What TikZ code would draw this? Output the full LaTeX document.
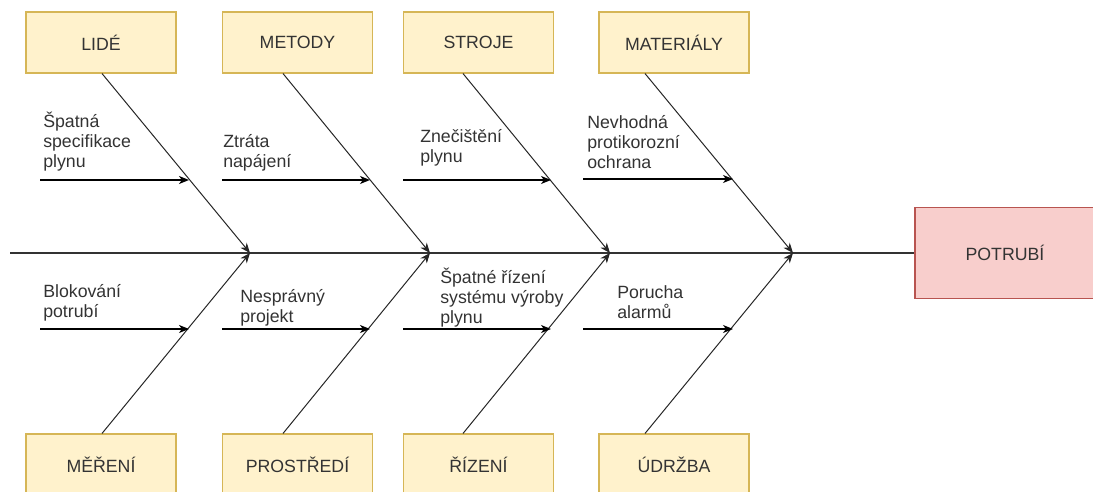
\documentclass[tikz,border=0pt]{standalone}
\usepackage{fontspec}
\setmainfont{Liberation Sans}
\usetikzlibrary{arrows.meta}
\definecolor{boxfill}{HTML}{FFF2CC}
\definecolor{boxline}{HTML}{D6B656}
\definecolor{effill}{HTML}{F8CECC}
\definecolor{efline}{HTML}{B85450}
\definecolor{txt}{HTML}{333333}
\newcommand\fishfont{\fontsize{13.3}{15}\selectfont\lineskiplimit=-20pt\relax}
\tikzset{
  cat/.style={draw=boxline, fill=boxfill, line width=0.8pt, minimum width=112.5pt, minimum height=45.75pt, inner sep=0pt, text=txt, font=\fishfont},
  effect/.style={draw=efline, fill=effill, line width=0.8pt, minimum width=135pt, minimum height=68.25pt, inner sep=0pt, text=txt, font=\fishfont},
  cause/.style={anchor=north west, inner sep=0pt, align=left, text=txt, font=\fishfont},
  spine/.style={draw=txt, line width=1.5pt},
  bone/.style={draw=black!85, line width=0.75pt, -{Stealth[length=7.5pt,width=6pt,inset=2.2pt]}},
  sub/.style={draw=black, line width=1.1pt, -{Stealth[length=7.5pt,width=6pt,inset=2.2pt]}}
}
\begin{document}
\begin{tikzpicture}[x=0.75pt, y=-0.75pt]
\useasboundingbox (0,0) rectangle (1093,492);
% category boxes
\node[cat] (lide) at (101,42.5) {LIDÉ};
\node[cat] (metody) at (297.5,42.5) {METODY};
\node[cat] (stroje) at (478.5,42.5) {STROJE};
\node[cat] (mat) at (674,42.5) {MATERIÁLY};
\node[cat] (mereni) at (101,464.5) {MĚŘENÍ};
\node[cat] (prostr) at (297.5,464.5) {PROSTŘEDÍ};
\node[cat] (rizeni) at (478.5,464.5) {ŘÍZENÍ};
\node[cat] (udrzba) at (674,464.5) {ÚDRŽBA};
\node[effect] (potrubi) at (1005,253) {POTRUBÍ};
% spine
\coordinate (tail) at (10,253);
\draw[spine] (tail) -- (potrubi.west);
% junctions on spine
\coordinate (j1) at (250,253);
\coordinate (j2) at (430,253);
\coordinate (j3) at (610,253);
\coordinate (j4) at (793,253);
% start x of bones
\coordinate (s1) at (102,0);
\coordinate (s2) at (283,0);
\coordinate (s3) at (463,0);
\coordinate (s4) at (645,0);
% bones
\draw[bone] (lide.south -| s1) -- (j1);
\draw[bone] (metody.south -| s2) -- (j2);
\draw[bone] (stroje.south -| s3) -- (j3);
\draw[bone] (mat.south -| s4) -- (j4);
\draw[bone] (mereni.north -| s1) -- (j1);
\draw[bone] (prostr.north -| s2) -- (j2);
\draw[bone] (rizeni.north -| s3) -- (j3);
\draw[bone] (udrzba.north -| s4) -- (j4);
% sub-cause arrows (top)
\coordinate (a1) at (40,180);  \coordinate (b1) at (189,180);
\coordinate (a2) at (222,180); \coordinate (b2) at (370,180);
\coordinate (a3) at (403,180); \coordinate (b3) at (551,180);
\coordinate (a4) at (583,179); \coordinate (b4) at (733,179);
\draw[sub] (a1) -- (b1);
\draw[sub] (a2) -- (b2);
\draw[sub] (a3) -- (b3);
\draw[sub] (a4) -- (b4);
% sub-cause arrows (bottom)
\coordinate (c1) at (40,329);  \coordinate (d1) at (189,329);
\coordinate (c2) at (222,329); \coordinate (d2) at (370,329);
\coordinate (c3) at (403,329); \coordinate (d3) at (551,329);
\coordinate (c4) at (583,329); \coordinate (d4) at (733,329);
\draw[sub] (c1) -- (d1);
\draw[sub] (c2) -- (d2);
\draw[sub] (c3) -- (d3);
\draw[sub] (c4) -- (d4);
% cause labels
\node[cause] (t1) at (43,108.3) {\rule{0pt}{14pt}Špatná\\specifikace\\plynu};
\node[cause] (t2) at (223,128.3) {\rule{0pt}{14pt}Ztráta\\napájení};
\node[cause] (t3) at (420,123.3) {\rule{0pt}{14pt}Znečištění\\plynu};
\node[cause] (t4) at (587,109.3) {\rule{0pt}{14pt}Nevhodná\\protikorozní\\ochrana};
\node[cause] (u1) at (43,278.3) {\rule{0pt}{14pt}Blokování\\potrubí};
\node[cause] (u2) at (240,283.3) {\rule{0pt}{14pt}Nesprávný\\projekt};
\node[cause] (u3) at (440,264.3) {\rule{0pt}{14pt}Špatné řízení\\systému výroby\\plynu};
\node[cause] (u4) at (617,279.3) {\rule{0pt}{14pt}Porucha\\alarmů};
\end{tikzpicture}
\end{document}
